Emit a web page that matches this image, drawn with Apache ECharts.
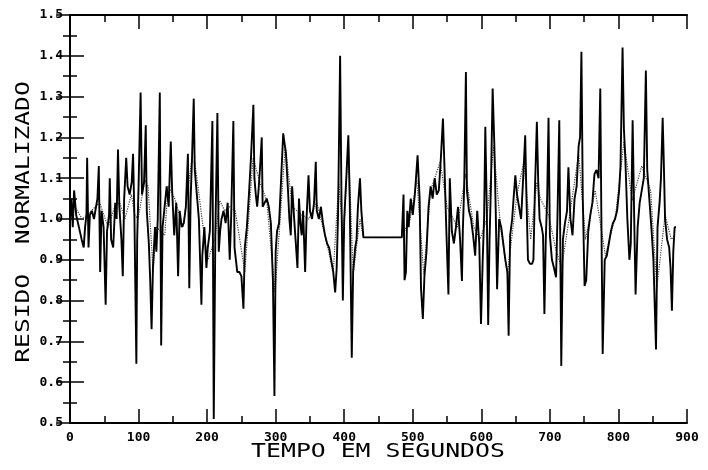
<!DOCTYPE html>
<html>
<head>
<meta charset="utf-8">
<script src="https://cdn.jsdelivr.net/npm/echarts@6/dist/echarts.min.js"></script>
<style>html,body{margin:0;padding:0;background:#fff;}#c{width:708px;height:470px;}</style>
</head>
<body>
<div id="c"></div>
<script>
// Solid line (residue) — time in seconds and normalized value
const solidT = [0,2,4,6,9,13,17,20,22,24,25,27,29,32,35,38,40,42,44,46,49,52,54,57,58,60,63,66,68,70,72,75,77,79,82,84,87,90,92,94,96.8,98,100,103,105,108,110.5,112,115,117,119,121,124,126,128,131,133,135,138,141,144,147,149,152,155,157.7,160,163,166,169,172,174,176,178,180.5,182,185,188,191.7,193,196,199,201,204,207.7,209.7,212,215,217,219,221,
224,227,230,233,235,238.3,240,242,244,247,250,253,255,258,261,264,267.5,269,271,273,275,277,279.7,281,284,287,290,293,296,298.2,300,302,305,308,311,313,315,318,320,322,324,327,329,331.8,334,336,338,340,343,345,347.9,350,353,356,358.5,360,363,366,369,372,375,378,381,384,386.8,389,391,394,396,398,400,403,406,408,411,413,416,418,420,423,425,428,440,455,470,484,
486.5,488,490,492,494,497,500,503,507,510,512,514.7,517,520,523,526,529,532,535,538,541,544,546,549,552,554,557,560,563,566,569,571.7,573,575,577.5,579,582,585,588,591,594,597,599.5,602,604,605.8,608,610,612,614,616.5,619,621,623,626,629,632,635,638,639.8,642,645,647,649.6,652,655,658,661,664,666,668,671,674,676,678,681,683,685,688,690,692,694,696,698,700,703,706,709,711,713.7,716.6,719,722,725,727,730,733,736,739,742,744,746,748,750.6,753,756,759,762,765,768,771,773.5,775,777,780,783,786,789,792,795,798,801,803,806,808,810,813,816,818,820.7,823,825,828,831,834,837,840,842,845,848,851,854.8,857,860,862,864.5,866,868,871,874,876,878,880,882,884];
const solidV = [1.00,1.05,0.98,1.07,1.01,0.98,0.95,0.93,0.98,1.01,1.15,0.93,1.01,1.02,1.00,1.03,1.05,1.13,0.87,1.02,0.98,0.79,0.97,1.01,1.10,0.95,0.93,1.04,1.00,1.17,1.03,0.95,0.86,1.05,1.15,1.08,1.06,1.09,1.16,1.00,0.645,0.95,1.08,1.31,1.06,1.09,1.23,1.02,0.94,0.85,0.73,0.88,0.98,0.92,1.00,1.31,0.69,0.98,1.03,1.08,1.03,1.19,1.07,0.96,1.04,0.86,1.02,0.98,0.99,1.03,1.16,0.83,1.05,1.15,1.295,1.12,1.06,1.00,0.79,0.91,0.98,0.88,0.93,0.97,1.24,0.51,0.96,1.26,0.92,0.97,1.00,
1.02,0.99,1.04,0.90,1.00,1.24,0.93,0.90,0.87,0.87,0.86,0.78,0.93,0.98,1.06,1.15,1.28,1.10,1.06,1.03,1.07,1.12,1.20,1.03,1.04,1.05,1.03,0.99,0.85,0.566,0.92,0.97,0.99,1.10,1.21,1.21,1.16,1.07,1.00,0.96,1.08,1.00,0.95,0.88,1.05,0.99,0.96,1.02,0.87,1.00,1.107,1.02,1.00,1.04,1.14,1.02,1.00,1.03,0.99,0.96,0.94,0.93,0.90,0.87,0.82,0.88,1.01,1.40,1.05,0.80,1.00,1.10,1.205,1.05,0.66,0.87,0.93,0.95,1.03,1.10,1.02,0.955,0.955,0.955,0.955,0.955,
1.06,0.85,0.87,1.02,0.98,1.05,1.01,1.06,1.156,1.05,0.83,0.755,0.86,0.92,1.03,1.08,1.05,1.10,1.06,1.07,1.15,1.246,1.14,0.97,0.815,1.10,0.97,0.94,0.98,1.03,0.95,0.848,0.97,1.08,1.36,1.07,1.02,1.00,0.96,0.91,1.02,0.94,0.743,0.90,1.00,1.226,1.02,0.74,0.95,1.08,1.32,1.18,1.02,0.828,1.00,0.98,0.94,0.90,0.87,0.714,0.96,1.00,1.05,1.107,1.06,1.03,1.00,1.10,1.205,1.04,0.90,0.89,0.89,0.90,1.06,1.238,1.09,1.00,0.98,0.96,0.767,0.95,1.05,1.248,0.96,0.90,0.88,0.857,1.00,1.242,0.64,0.95,0.99,1.02,1.127,1.00,0.96,1.05,1.08,1.18,1.20,1.41,1.05,0.836,0.85,0.97,1.01,1.04,1.11,1.12,1.10,1.32,1.02,0.669,0.90,0.91,0.94,0.97,0.99,1.00,1.02,1.07,1.13,1.42,1.22,1.15,1.00,0.90,0.94,1.242,1.00,0.815,0.98,1.04,1.07,1.10,1.364,1.12,1.05,0.98,0.90,0.68,0.98,1.04,1.10,1.248,1.15,1.00,0.95,0.93,0.88,0.775,0.92,0.98,0.98];

// Dotted line (smoother companion curve)
const dotT = [0,6.8,18,31.1,43.3,55.5,65.2,72.5,80,89.5,94.4,99.3,109,113.9,121.2,126,138.2,143,152.8,165,177.1,182,189.3,196.4,201.4,211.1,218.4,225.7,233,241,255,267,277,287,299,314,324,338,348,360,372,384,392,399,406,413,423,428,484,496,506,516,526,540,550,565,577,589,598,608,618,628,638,652,662,672,681,686,698,708,717,728,742,752,766,781,796,808,820,834,847,856,868,877,882];
const dotV = [1.00,1.03,1.00,1.02,1.04,0.98,1.03,1.04,1.00,1.06,1.01,1.00,1.095,1.08,0.87,0.98,0.96,1.08,1.05,0.98,1.14,1.14,1.045,0.95,0.90,0.95,1.045,1.02,1.03,1.02,0.87,1.15,1.09,1.045,0.82,1.18,1.03,1.01,1.00,1.04,0.96,0.87,1.09,0.95,1.19,0.865,1.00,0.955,0.955,1.00,1.095,0.865,1.07,1.14,1.03,0.98,1.11,0.98,0.95,1.00,1.18,0.98,0.865,1.06,1.14,0.95,1.09,1.05,1.01,0.93,0.88,1.00,1.16,0.95,1.07,0.91,1.01,1.19,1.045,1.13,1.07,0.83,1.01,0.95,0.96];

// Axis ranges and tick steps
const xRange = [0, 900, 100];
const yRange = [0.5, 1.5, 0.1];
const xTitle = 'TEMPO EM SEGUNDOS';
const yTitle = 'RESIDO  NORMALIZADO';

const solidData = solidT.map((t, i) => [t, solidV[i]]);
const dotData = dotT.map((t, i) => [t, dotV[i]]);

const axisLine = { show: true, lineStyle: { color: '#000', width: 2 } };
const labelFont = { color: '#000', fontFamily: 'DejaVu Sans Mono', fontSize: 13, fontWeight: 'bold' };
function xAx(pos, showLabel) {
  return {
    type: 'value', position: pos, min: xRange[0], max: xRange[1], interval: xRange[2],
    axisLine: axisLine,
    axisTick: { show: true, inside: true, length: 14, lineStyle: { color: '#000', width: 1.5 } },
    minorTick: { show: true, splitNumber: 2, length: 7, lineStyle: { color: '#000', width: 1.5 } },
    splitLine: { show: false },
    axisLabel: Object.assign({ show: showLabel, margin: 8 }, labelFont)
  };
}
function yAx(pos, showLabel) {
  return {
    type: 'value', position: pos, min: yRange[0], max: yRange[1], interval: yRange[2],
    axisLine: axisLine,
    axisTick: { show: true, inside: true, length: 14, lineStyle: { color: '#000', width: 1.5 } },
    minorTick: { show: true, splitNumber: 2, length: 7, lineStyle: { color: '#000', width: 1.5 } },
    splitLine: { show: false },
    axisLabel: Object.assign({ show: showLabel, margin: 7, formatter: v => v.toFixed(1) }, labelFont)
  };
}

const chart = echarts.init(document.getElementById('c'), null, { renderer: 'canvas' });
chart.setOption({
  animation: false,
  backgroundColor: '#fff',
  grid: { left: 70, right: 21, top: 15, bottom: 47, containLabel: false },
  xAxis: [xAx('bottom', true), xAx('top', false)],
  yAxis: [yAx('left', true), yAx('right', false)],
  series: [
    { type: 'line', xAxisIndex: 0, yAxisIndex: 0, data: dotData, showSymbol: false, smooth: false,
      lineStyle: { color: '#444', width: 1.2, type: 'dotted' }, z: 2 },
    { type: 'line', xAxisIndex: 0, yAxisIndex: 0, data: solidData, showSymbol: false, smooth: false,
      lineStyle: { color: '#000', width: 1.9 }, z: 3 }
  ],
  graphic: [
    { type: 'text', x: 378, y: 452, scaleX: 1.24,
      style: { text: xTitle, font: '20px "DejaVu Sans Mono"', fill: '#000', align: 'center', verticalAlign: 'middle' } },
    { type: 'text', x: 24, y: 222, rotation: Math.PI / 2, scaleX: 1.23,
      style: { text: yTitle, font: '20px "DejaVu Sans Mono"', fill: '#000', align: 'center', verticalAlign: 'middle' } }
  ]
});
</script>
</body>
</html>
